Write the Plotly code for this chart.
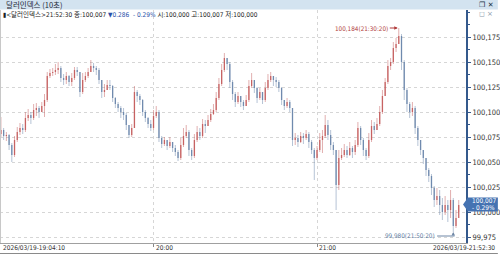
import pandas as pd
import plotly.graph_objects as go

# ---------------- data ----------------
times = pd.date_range("2026-03-19 19:04:00", periods=169, freq="1min")

close = [100.082,100.076,100.077,100.067,100.057,100.072,100.080,100.084,100.082,100.094,
         100.097,100.094,100.102,100.104,100.100,100.106,100.112,100.136,100.139,100.140,
         100.142,100.144,100.134,100.132,100.136,100.130,100.134,100.142,100.140,100.120,
         100.132,100.136,100.140,100.146,100.144,100.142,100.132,100.120,100.122,100.127,
         100.126,100.114,100.108,100.104,100.100,100.097,100.087,100.077,100.084,100.120,
         100.116,100.112,100.100,100.094,100.088,100.084,100.096,100.100,100.074,100.068,
         100.072,100.066,100.070,100.064,100.060,100.054,100.067,100.076,100.080,100.062,
         100.056,100.072,100.080,100.076,100.088,100.086,100.092,100.098,100.102,100.114,
         100.128,100.142,100.154,100.148,100.130,100.118,100.110,100.116,100.110,100.106,
         100.112,100.126,100.132,100.124,100.114,100.120,100.112,100.124,100.132,100.136,
         100.132,100.130,100.124,100.112,100.106,100.110,100.104,100.072,100.074,100.070,
         100.076,100.074,100.078,100.070,100.062,100.054,100.062,100.072,100.076,100.087,
         100.077,100.067,100.062,100.027,100.054,100.057,100.062,100.057,100.064,100.060,
         100.067,100.084,100.072,100.062,100.056,100.072,100.086,100.082,100.088,100.100,
         100.116,100.130,100.146,100.150,100.164,100.168,100.176,100.150,100.122,100.108,
         100.100,100.104,100.084,100.072,100.062,100.054,100.042,100.036,100.024,100.012,
         100.016,100.007,100.000,100.007,100.002,100.012,99.986,99.994,100.007]

high = [100.095,100.084,100.080,100.078,100.069,100.076,100.085,100.089,100.088,100.100,
        100.103,100.100,100.108,100.109,100.106,100.110,100.118,100.140,100.143,100.144,
        100.148,100.150,100.146,100.138,100.140,100.137,100.139,100.145,100.145,100.140,
        100.139,100.140,100.144,100.152,100.149,100.146,100.144,100.132,100.128,100.132,
        100.132,100.127,100.115,100.110,100.106,100.104,100.099,100.087,100.088,100.126,
        100.122,100.118,100.113,100.102,100.095,100.092,100.102,100.106,100.102,100.076,
        100.075,100.072,100.075,100.070,100.067,100.062,100.074,100.084,100.087,100.082,
        100.064,100.078,100.086,100.084,100.093,100.092,100.097,100.103,100.108,100.120,
        100.134,100.148,100.159,100.154,100.150,100.132,100.120,100.120,100.116,100.112,
        100.117,100.132,100.139,100.132,100.125,100.124,100.120,100.130,100.138,100.140,
        100.136,100.135,100.132,100.125,100.112,100.114,100.112,100.104,100.079,100.077,
        100.080,100.079,100.082,100.080,100.072,100.064,100.066,100.079,100.082,100.097,
        100.092,100.082,100.070,100.062,100.062,100.064,100.068,100.066,100.070,100.066,
        100.072,100.090,100.086,100.074,100.064,100.079,100.092,100.090,100.094,100.106,
        100.122,100.134,100.152,100.154,100.170,100.174,100.184,100.178,100.152,100.124,
        100.110,100.110,100.106,100.086,100.072,100.062,100.054,100.044,100.038,100.026,
        100.024,100.022,100.014,100.016,100.012,100.022,100.014,100.002,100.012]

low = [100.075,100.072,100.071,100.062,100.050,100.055,100.070,100.077,100.078,100.080,
       100.091,100.088,100.092,100.096,100.094,100.100,100.095,100.110,100.134,100.136,
       100.137,100.138,100.130,100.127,100.128,100.126,100.126,100.132,100.136,100.115,
       100.118,100.130,100.134,100.140,100.140,100.137,100.128,100.114,100.115,100.122,
       100.122,100.110,100.104,100.100,100.094,100.092,100.082,100.074,100.075,100.084,
       100.110,100.107,100.096,100.090,100.084,100.081,100.082,100.094,100.070,100.064,
       100.066,100.062,100.064,100.060,100.056,100.051,100.052,100.065,100.074,100.056,
       100.052,100.054,100.070,100.072,100.074,100.079,100.086,100.090,100.097,100.100,
       100.112,100.126,100.140,100.142,100.124,100.112,100.105,100.108,100.105,100.102,
       100.106,100.110,100.124,100.119,100.109,100.112,100.108,100.110,100.122,100.130,
       100.126,100.125,100.120,100.107,100.102,100.104,100.100,100.066,100.067,100.065,
       100.069,100.068,100.072,100.064,100.058,100.032,100.052,100.060,100.059,100.074,
       100.072,100.062,100.057,100.002,100.022,100.052,100.055,100.054,100.056,100.054,
       100.057,100.065,100.067,100.056,100.052,100.054,100.070,100.078,100.082,100.086,
       100.098,100.116,100.128,100.142,100.148,100.160,100.168,100.142,100.112,100.100,
       100.094,100.096,100.078,100.066,100.057,100.048,100.036,100.030,100.017,100.005,
       100.007,99.997,99.992,99.997,99.990,99.994,99.980,99.984,100.000]

first_open = 100.078
opens = [first_open] + close[:-1]

y_tickvals = [99.975, 100.000, 100.025, 100.050, 100.075, 100.100, 100.125, 100.150, 100.175]
y_ticktext = ["99,975", "100,000", "100,025", "100,050", "100,075", "100,100", "100,125", "100,150", "100,175"]
x_tickvals = ["2026-03-19 20:00", "2026-03-19 21:00"]
x_ticktext = ["20:00", "21:00"]

peak_idx, low_idx = 146, 166
peak_text = "100,184(21:30:20)"
low_text = "99,980(21:50:20)"
last_price_text = "100,007"
last_change_text = "- 0.29%"

UP = "#c45a5a"
DOWN = "#6884aa"
FONT = "DejaVu Sans Condensed, Noto Sans CJK KR, sans-serif"
KFONT = "DejaVu Sans Condensed, Noto Sans CJK KR, sans-serif"

# ---------------- geometry helpers ----------------
W, H = 500, 255
ML, MR, MT, MB = 0, 32, 10, 12
PW, PH = W - ML - MR, H - MT - MB
def px(x):
    return (x - ML) / PW
def py(y):
    return (H - MB - y) / PH

# ---------------- build candle segments ----------------
segs = {"up": ([], [], [], []), "down": ([], [], [], [])}
for t, o, h, l, c in zip(times, opens, high, low, close):
    key = "up" if c >= o else "down"
    wx, wy, bx, by = segs[key]
    wx += [t, t, None]
    wy += [l, h, None]
    bx += [t, t, None]
    by += [min(o, c), max(o, c) + (0.0008 if o == c else 0), None]

fig = go.Figure()
for key, col in (("up", UP), ("down", DOWN)):
    wx, wy, bx, by = segs[key]
    fig.add_trace(go.Scatter(x=wx, y=wy, mode="lines", line=dict(color=col, width=0.8),
                             opacity=0.6, hoverinfo="skip", showlegend=False))
    fig.add_trace(go.Scatter(x=bx, y=by, mode="lines", line=dict(color=col, width=1.3),
                             opacity=0.9, hoverinfo="skip", showlegend=False))

fig.update_layout(
    width=W, height=H,
    margin=dict(l=ML, r=MR, t=MT, b=MB),
    paper_bgcolor="white", plot_bgcolor="white",
    showlegend=False,
    font=dict(family=FONT, size=7, color="#333333"),
    xaxis=dict(type="date", range=["2026-03-19 19:03:40", "2026-03-19 21:54:40"],
               tickvals=x_tickvals, ticktext=x_ticktext, showticklabels=False,
               ticks="outside", ticklen=3, tickcolor="#888888",
               showline=True, linecolor="#a0a0a0", linewidth=1,
               showgrid=True, gridcolor="#d6d6d6", griddash="dot", gridwidth=1,
               zeroline=False, fixedrange=True),
    yaxis=dict(side="right", range=[99.969, 100.202],
               tickvals=y_tickvals, ticktext=y_ticktext,
               ticks="outside", ticklen=3, tickcolor="#34598c",
               minor=dict(dtick=0.0125, tick0=99.975, ticks="outside", ticklen=2,
                          tickcolor="#34598c", showgrid=False),
               showline=True, linecolor="#34598c", linewidth=2,
               showgrid=True, gridcolor="#d6d6d6", griddash="dot", gridwidth=1,
               zeroline=False, tickfont=dict(size=7.5, color="#333333"), fixedrange=True),
)

shapes = []
# title bar
shapes.append(dict(type="rect", xref="paper", yref="paper", x0=px(0), x1=px(W),
                   y0=py(0), y1=py(9.5), fillcolor="#d3e3f0", line=dict(width=0), layer="above"))
# left border
shapes.append(dict(type="line", xref="paper", yref="paper", x0=px(0.5), x1=px(0.5),
                   y0=py(10), y1=py(243), line=dict(color="#c8c8c8", width=1)))
# bottom border
shapes.append(dict(type="line", xref="paper", yref="paper", x0=px(0), x1=px(W),
                   y0=py(253.5), y1=py(253.5), line=dict(color="#8a8a8a", width=1)))
# current price tag
shapes.append(dict(type="path", xref="paper", yref="paper",
                   path=f"M {px(465)} {py(204.5)} L {px(470)} {py(197.5)} L {px(500)} {py(197.5)} "
                        f"L {px(500)} {py(211.5)} L {px(470)} {py(211.5)} Z",
                   fillcolor="#4573b2", line=dict(width=0), layer="above"))
# low marker connector
shapes.append(dict(type="line", xref="paper", yref="paper", x0=px(439), x1=px(456.5),
                   y0=py(236), y1=py(236), line=dict(color="#6f87a6", width=1)))
fig.update_layout(shapes=shapes)

ann = []
ann.append(dict(xref="paper", yref="paper", x=px(4), y=py(4.5), xanchor="left", yanchor="middle",
                text="달러인덱스 (10초)", showarrow=False,
                font=dict(family="Noto Sans CJK KR, sans-serif", size=7.5, color="#1e2a38")))
ann.append(dict(xref="paper", yref="paper", x=px(498), y=py(4.5), xanchor="right", yanchor="middle",
                text="<b>❐ ✕</b>", showarrow=False,
                font=dict(family="DejaVu Sans, sans-serif", size=7, color="#203040")))
ann.append(dict(xref="paper", yref="paper", x=px(1), y=py(15), xanchor="left", yanchor="middle",
                text="▮&lt;달러인덱스&gt;21:52:30 종:100,007 "
                     "<span style='color:#2950a8'>▼0.286</span>  "
                     "<span style='color:#2950a8'>- 0.29%</span> "
                     "시:100,000 고:100,007 저:100,000",
                showarrow=False, font=dict(family=KFONT, size=6.5, color="#222222")))
ann.append(dict(xref="paper", yref="paper", x=px(497), y=py(14.5), xanchor="right", yanchor="middle",
                text="◻ ×", showarrow=False,
                font=dict(family="DejaVu Sans, sans-serif", size=7, color="#8899aa")))
# x labels
XL = dict(size=6.5, color="#333333")
ann.append(dict(xref="paper", yref="paper", x=px(1), y=py(248.5), xanchor="left", yanchor="middle",
                text="2026/03/19-19:04:10", showarrow=False, font=XL))
for tv, tt in zip(x_tickvals, x_ticktext):
    ann.append(dict(xref="x", yref="paper", x=tv, y=py(248.5), xanchor="left", yanchor="middle",
                    text=tt, showarrow=False, font=XL))
ann.append(dict(xref="paper", yref="paper", x=px(499.5), y=py(248.5), xanchor="right", yanchor="middle",
                text="2026/03/19-21:52:30", showarrow=False, font=XL))
# current price tag text
ann.append(dict(xref="paper", yref="paper", x=px(486), y=py(200.8), xanchor="center", yanchor="middle",
                text=last_price_text, showarrow=False, font=dict(size=6.5, color="white")))
ann.append(dict(xref="paper", yref="paper", x=px(486), y=py(207.8), xanchor="center", yanchor="middle",
                text=last_change_text, showarrow=False, font=dict(size=6.5, color="white")))
# peak
ann.append(dict(x=times[peak_idx], y=high[peak_idx], xref="x", yref="y", text=peak_text,
                showarrow=True, ax=-9, ay=0, xanchor="right", yanchor="middle",
                arrowhead=2, arrowsize=0.7, arrowwidth=1, arrowcolor="#b03a3a", standoff=1,
                font=dict(size=6.3, color="#b03a3a")))
# low
ann.append(dict(xref="paper", yref="paper", x=px(438.5), y=py(235), xanchor="right", yanchor="middle",
                text=low_text, showarrow=False, font=dict(size=6.3, color="#5c7aa0")))
ann.append(dict(x=times[low_idx], y=low[low_idx], xref="x", yref="y", text="",
                showarrow=True, ax=0, ay=4, arrowhead=2, arrowsize=0.7, arrowwidth=1,
                arrowcolor="#6f87a6", standoff=0))
fig.update_layout(annotations=ann)

fig.write_html("out.html")
